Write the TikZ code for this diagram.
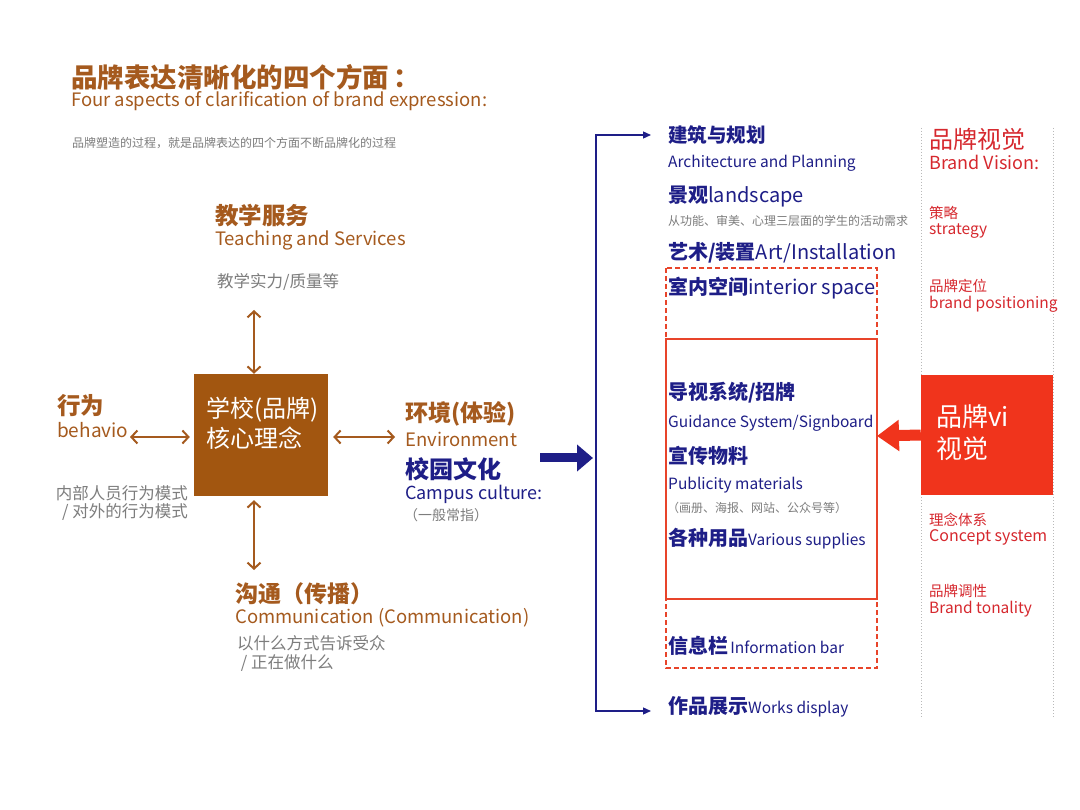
\documentclass[tikz,border=0pt]{standalone}
\usepackage{fontspec}
\setmainfont{Noto Sans CJK SC}
\usetikzlibrary{arrows.meta,calc}
\definecolor{brn}{RGB}{165,90,30}
\definecolor{boxbrn}{RGB}{162,86,16}
\definecolor{gry}{RGB}{125,125,125}
\definecolor{navy}{RGB}{30,30,135}
\definecolor{rd}{RGB}{214,40,46}
\definecolor{rline}{RGB}{232,68,42}
\definecolor{rbox}{RGB}{240,52,28}
\definecolor{dotg}{RGB}{185,185,185}
\newcommand\fsz[1]{\fontsize{#1}{#1}\selectfont}
\begin{document}
\begin{tikzpicture}[x=1pt,y=-1pt,
  txt/.style={anchor=west,inner sep=0},
  barrow/.style={brn,line width=2,{Straight Barb[length=6,width=13]}-{Straight Barb[length=6,width=13]}},
  navyarrow/.style={navy,line width=1.3},
]
\useasboundingbox[fill=white] (0,0) rectangle (1080,810);

% title
\node[txt,brn] (title) at (71,77) {\fsz{26.5}\bfseries 品牌表达清晰化的四个方面\,：};
\node[txt,brn] (titleen) at (71,101) {\fsz{18.5}Four aspects of clarification of brand expression:};
\node[txt,gry] (sub) at (72,143) {\fsz{12}品牌塑造的过程，就是品牌表达的四个方面不断品牌化的过程};

% core box
\node[fill=boxbrn,minimum width=134,minimum height=122,inner sep=0] (core) at (261,435) {};
\node[txt,white] (core1) at (206,410) {\fsz{24}学校(品牌)};
\node[txt,white] (core2) at (206,438) {\fsz{24}核心理念};

% top
\node[txt,brn] (teach) at (215,216) {\fsz{23.5}\bfseries 教学服务};
\node[txt,brn] (teachen) at (215,240) {\fsz{18.5}Teaching and Services};
\node[txt,gry] (teachsub) at (217,282) {\fsz{16.5}教学实力/质量等};
\coordinate (ttop) at (254,310);
\draw[barrow] (ttop) -- (ttop |- core.north);

% left
\node[txt,brn] (beh) at (57,406) {\fsz{23.5}\bfseries 行为};
\node[txt,brn] (behen) at (57,430) {\fsz{19}behavio};
\node[anchor=east,inner sep=0,gry] (beh1) at (188,493) {\fsz{16.5}内部人员行为模式};
\node[anchor=east,inner sep=0,gry] (beh2) at (188,512) {\fsz{16.5}/ 对外的行为模式};
\coordinate (lend) at (130,437);
\draw[barrow,shorten >=4] (lend) -- (lend -| core.west);

% bottom
\coordinate (bend) at (254,570);
\draw[barrow,shorten >=4] (bend) -- (bend |- core.south);
\node[txt,brn] (comm) at (235,594) {\fsz{23}\bfseries 沟通（传播）};
\node[txt,brn] (commen) at (235,618) {\fsz{18.5}Communication (Communication)};
\node[txt,gry] (comm1) at (237,643) {\fsz{16.5}以什么方式告诉受众};
\node[txt,gry] (comm2) at (237,663) {\fsz{16.5}\ / 正在做什么};

% right of core
\coordinate (rend) at (395,437);
\draw[barrow,shorten >=5] (rend) -- (rend -| core.east);
\node[txt,brn] (env) at (405,414) {\fsz{23}\bfseries 环境(体验)};
\node[txt,brn] (envEn) at (405,439) {\fsz{18.5}Environment};
\node[txt,navy] (campus) at (405,469) {\fsz{24}\bfseries 校园文化};
\node[txt,navy] (campusen) at (405,494) {\fsz{18}Campus culture:};
\node[txt,gry] (campsub) at (404,515) {\fsz{14}（一般常指）};

% big blue arrow
\coordinate (ba1) at (540,458);
\coordinate (ba2) at (593,458);
\draw[navy,line width=9,-{Triangle[length=16,width=26]}] (ba1) -- (ba2);

% red boxes
\draw[rline,line width=1.8,dash pattern=on 5pt off 3pt] (666,268) rectangle (877,668);
\draw[rline,line width=1.8] (666,339) rectangle (877,599);

% right column
\node[txt,navy] (arch) at (668,135) {\fsz{19.5}\bfseries 建筑与规划};
\node[txt,navy] (archen) at (668,163) {\fsz{15.5}Architecture and Planning};
\node[txt,navy] (land) at (668,197) {{\fsz{20}\bfseries 景观}{\fsz{20}landscape}};
\node[txt,gry] (landsub) at (668,221) {\fsz{12}从功能、审美、心理三层面的学生的活动需求};
\node[txt,navy] (art) at (668,253) {{\fsz{20}\bfseries 艺术/装置}{\fsz{20}Art/Installation}};
\node[txt,navy] (interior) at (668,288) {{\fsz{20}\bfseries 室内空间}{\fsz{20}interior space}};
\node[txt,navy] (guide) at (668,393) {\fsz{20}\bfseries 导视系统/招牌};
\node[txt,navy] (guideen) at (668,423) {\fsz{15.5}Guidance System/Signboard};
\node[txt,navy] (pub) at (668,456) {\fsz{20}\bfseries 宣传物料};
\node[txt,navy] (puben) at (668,485) {\fsz{15.5}Publicity materials};
\node[txt,gry] (pubsub) at (667,508) {\fsz{12}（画册、海报、网站、公众号等）};
\node[txt,navy] (supp) at (668,539) {{\fsz{20}\bfseries 各种用品}{\fsz{15.5}Various supplies}};
\node[txt,navy] (info) at (668,646) {{\fsz{20}\bfseries 信息栏} {\fsz{15.5}Information bar}};
\node[txt,navy] (works) at (668,707) {{\fsz{20}\bfseries 作品展示}{\fsz{15.5}Works display}};

\coordinate (brtop) at (596,135);
\coordinate (brbot) at (596,711);
\draw[navyarrow,{Triangle[length=8,width=7]}-{Triangle[length=8,width=7]}]
  ($(arch.west |- brtop)+(-17,0)$) -- (brtop) -- (brbot) -- ($(works.west |- brbot)+(-17,0)$);

% brand vision column
\draw[dotg,line width=1,dotted] (921,128) -- (921,718);
\draw[dotg,line width=1,dotted] (1053,128) -- (1053,718);
\node[txt,rd] (bv) at (929,139) {\fsz{24}品牌视觉};
\node[txt,rd] (bven) at (929,162) {\fsz{18}Brand Vision:};
\node[txt,rd] (str) at (929,213) {\fsz{14.5}策略};
\node[txt,rd] (stren) at (929,231) {\fsz{15.5}strategy};
\node[txt,rd] (pos) at (929,286) {\fsz{14.5}品牌定位};
\node[txt,rd] (posen) at (929,304) {\fsz{15.5}brand positioning};
\node[fill=rbox,minimum width=132,minimum height=120,inner sep=0] (vi) at (987,435) {};
\node[txt,white] (vi1) at (936,417) {\fsz{26}品牌vi};
\node[txt,white] (vi2) at (936,449) {\fsz{26}视觉};
\node[txt,rd] (con) at (929,520) {\fsz{14.5}理念体系};
\node[txt,rd] (conen) at (929,537) {\fsz{16}Concept system};
\node[txt,rd] (ton) at (929,591) {\fsz{14.5}品牌调性};
\node[txt,rd] (tonen) at (929,609) {\fsz{15.5}Brand tonality};
\coordinate (rtip) at (877,436);
\draw[rbox,line width=11,-{Triangle[length=22,width=30]}] (vi.west) -- (rtip);
\end{tikzpicture}
\end{document}
